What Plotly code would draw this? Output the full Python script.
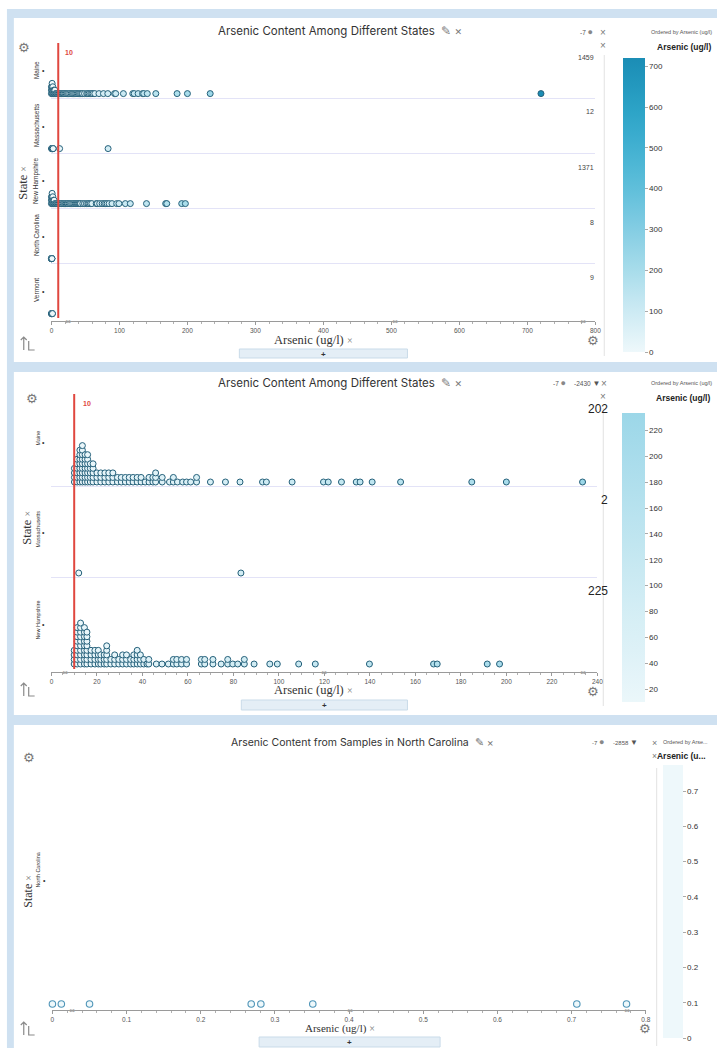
import plotly.graph_objects as go

W, H = 723, 1048

# ---------------- data ----------------
states_all = ["Maine", "Massachusetts", "New Hampshire", "North Carolina", "Vermont"]
counts_all = [1459, 12, 1371, 8, 9]
states_hi = ["Maine", "Massachusetts", "New Hampshire"]
counts_hi = [202, 2, 225]
states_nc = ["North Carolina"]

# Arsenic above 10 ug/l : value of each dot column and number of stacked dots
maine_hi_values = [10.1, 11.3, 12.5, 13.6, 14.8, 15.9, 17.1, 18.3, 20.0, 21.7, 23.5, 25.2, 27.0,
                   29.0, 30.7, 32.5, 34.2, 35.9, 37.7, 39.4, 41.2, 42.9, 44.6, 45.8, 48.7, 51.9,
                   53.6, 55.4, 57.7, 59.4, 61.2, 63.8, 69.9, 76.5, 82.9, 92.8, 94.5, 105.8, 119.6,
                   121.7, 127.5, 134.0, 135.7, 141.0, 153.5, 184.8, 200.0, 233.5, 720.0]
maine_hi_stack = [4, 6, 8, 9, 7, 7, 5, 5, 3, 3, 3, 3, 3,
                  2, 2, 2, 2, 2, 2, 2, 1, 2, 2, 3, 2, 1,
                  2, 1, 1, 1, 1, 2, 1, 1, 1, 1, 1, 1, 1,
                  1, 1, 1, 1, 1, 1, 1, 1, 1, 1]
nh_hi_values = [10.0, 11.3, 12.8, 14.5, 15.6, 17.4, 19.1, 20.6, 21.7, 23.2, 24.3, 26.1, 27.8,
                29.6, 31.3, 33.0, 34.8, 36.2, 37.7, 39.1, 40.6, 42.0, 42.8, 46.1, 48.6, 51.4,
                53.6, 55.1, 57.2, 59.4, 65.9, 67.4, 71.0, 74.6, 77.5, 79.7, 81.9, 84.8, 89.1,
                96.0, 99.3, 108.7, 116.0, 139.8, 168.0, 169.6, 191.6, 197.0]
nh_hi_stack = [4, 9, 10, 9, 8, 4, 4, 4, 3, 3, 5, 2, 3,
               2, 3, 3, 2, 3, 4, 3, 2, 1, 2, 1, 1, 1,
               2, 2, 2, 2, 2, 2, 2, 1, 2, 1, 1, 2, 1,
               1, 1, 1, 1, 1, 1, 1, 1, 1]
mass_hi_values = [12.0, 83.3]
mass_hi_stack = [1, 1]

# Arsenic at or below 10 ug/l (first panel)
maine_lo_values = [0, 1, 2, 3, 4, 5, 6, 7, 8, 9]
maine_lo_stack = [3, 4, 3, 2, 2, 2, 1, 1, 1, 1]
nh_lo_values = [0, 1, 2, 3, 4, 5, 6, 7, 8, 9]
nh_lo_stack = [3, 4, 3, 2, 2, 1, 1, 1, 1, 1]
mass_lo_values = [0.2, 0.5, 0.8, 1.0, 1.2, 1.5, 1.8, 2.0, 2.2, 2.5]
vermont_values = [0.1, 0.2, 0.3, 0.5, 0.6, 0.8, 1.0, 1.2, 1.5]
nc_values = [0.0, 0.012, 0.05, 0.268, 0.281, 0.351, 0.707, 0.774]

threshold = 10
cbar1_ticks = [0, 100, 200, 300, 400, 500, 600, 700]
cbar2_ticks = [20, 40, 60, 80, 100, 120, 140, 160, 180, 200, 220]
cbar3_ticks = [0, 0.1, 0.2, 0.3, 0.4, 0.5, 0.6, 0.7]

# ---------------- helpers ----------------
def px(x):
    return x / W


def py(y):
    return 1 - y / H


MASTER = [(0, (238, 248, 251)), (100, (205, 235, 243)), (200, (168, 220, 235)),
          (300, (132, 205, 227)), (400, (95, 191, 218)), (500, (66, 177, 210)),
          (600, (42, 162, 198)), (720, (27, 141, 181))]


def master_color(v):
    for (a, ca), (b, cb) in zip(MASTER[:-1], MASTER[1:]):
        if v <= b:
            t = max(0.0, (v - a) / (b - a))
            return tuple(round(ca[i] + (cb[i] - ca[i]) * t) for i in range(3))
    return MASTER[-1][1]


def scale_for(cmin, cmax, n=12):
    out = []
    for i in range(n):
        f = i / (n - 1)
        c = master_color(cmin + (cmax - cmin) * f)
        out.append([f, "rgb(%d,%d,%d)" % c])
    return out


def stack_points(values, stacks, row, base, step, xmax=None):
    xs, ys = [], []
    for v, n in zip(values, stacks):
        if xmax is not None and v > xmax:
            continue
        for k in range(n):
            xs.append(v)
            ys.append(row + base + k * step)
    return xs, ys


annotations = []
shapes = []


def txt(x, y, text, size=8, color="#333", family="Liberation Sans", xanchor="center",
        yanchor="middle", angle=0):
    annotations.append(dict(x=px(x), y=py(y), xref="paper", yref="paper", text=text,
                            showarrow=False, xanchor=xanchor, yanchor=yanchor,
                            textangle=angle, borderpad=0,
                            font=dict(size=size, color=color, family=family)))


def rect(x0, y0, x1, y1, fill, line=None, layer="below"):
    shapes.append(dict(type="rect", xref="paper", yref="paper", x0=px(x0), x1=px(x1),
                       y0=py(y1), y1=py(y0), fillcolor=fill, layer=layer,
                       line=dict(width=1 if line else 0, color=line or fill)))


def vline(x, y0, y1, color, width=1):
    shapes.append(dict(type="line", xref="paper", yref="paper", x0=px(x), x1=px(x),
                       y0=py(y0), y1=py(y1), line=dict(color=color, width=width), layer="below"))


def corner_icon(x, y):
    p = "M %f %f L %f %f M %f %f L %f %f L %f %f M %f %f L %f %f L %f %f" % (
        px(x), py(y + 7), px(x), py(y - 6),
        px(x - 3), py(y - 3), px(x), py(y - 6), px(x + 3), py(y - 3),
        px(x + 5), py(y - 2), px(x + 5), py(y + 7), px(x + 11), py(y + 7))
    shapes.append(dict(type="path", xref="paper", yref="paper", path=p,
                       line=dict(color="#8a8a8a", width=1.2)))


# ---------------- frame ----------------
rect(5, 9, 723, 1048, "#cfe1f1")
rect(12, 18, 723, 362, "white")
rect(12, 372, 723, 715, "white")
rect(12, 725, 723, 1048, "white")

# ---------------- traces ----------------
fig = go.Figure()

# panel 1 : all states, rows (bottom -> top) Vermont .. Maine
B1, S1 = 0.08, 0.062
rows1 = {"Maine": 4, "Massachusetts": 3, "New Hampshire": 2, "North Carolina": 1, "Vermont": 0}
x1, y1 = [], []
for vals, st, row, stepped in [
    (maine_lo_values, maine_lo_stack, rows1["Maine"], True),
    (maine_hi_values, [1] * len(maine_hi_values), rows1["Maine"], False),
    (mass_lo_values, [1] * len(mass_lo_values), rows1["Massachusetts"], False),
    (mass_hi_values, mass_hi_stack, rows1["Massachusetts"], False),
    (nh_lo_values, nh_lo_stack, rows1["New Hampshire"], True),
    (nh_hi_values, [1] * len(nh_hi_values), rows1["New Hampshire"], False),
    (nc_values, [1] * len(nc_values), rows1["North Carolina"], False),
    (vermont_values, [1] * len(vermont_values), rows1["Vermont"], False),
]:
    xs, ys = stack_points(vals, st, row, B1, S1 if stepped else 0)
    x1 += xs
    y1 += ys

# panel 2 : above 10 ug/l, rows Maine(2) Massachusetts(1) New Hampshire(0)
B2, S2 = 0.044, 0.05
x2, y2 = [], []
for vals, st, row in [(maine_hi_values, maine_hi_stack, 2),
                      (mass_hi_values, mass_hi_stack, 1),
                      (nh_hi_values, nh_hi_stack, 0)]:
    xs, ys = stack_points(vals, st, row, B2, S2, xmax=240)
    x2 += xs
    y2 += ys

# panel 3 : North Carolina
x3 = list(nc_values)
y3 = [0.025] * len(nc_values)

mk = dict(size=6, line=dict(color="#24607a", width=1))
fig.add_trace(go.Scatter(x=x1, y=y1, mode="markers", xaxis="x", yaxis="y", hoverinfo="skip",
                         cliponaxis=False,
                         marker=dict(color=x1, coloraxis="coloraxis", **mk)))
fig.add_trace(go.Scatter(x=x2, y=y2, mode="markers", xaxis="x2", yaxis="y2", hoverinfo="skip",
                         cliponaxis=False,
                         marker=dict(color=x2, coloraxis="coloraxis2", **mk)))
fig.add_trace(go.Scatter(x=x3, y=y3, mode="markers", xaxis="x3", yaxis="y3", hoverinfo="skip",
                         cliponaxis=False,
                         marker=dict(color=x3, coloraxis="coloraxis3", size=6.5,
                                     line=dict(color="#4f95b8", width=1.1))))


def cbar(x, ytop, ybot, ticks, thick):
    return dict(x=px(x), xanchor="left", y=py(ybot), yanchor="bottom",
                len=ybot - ytop, lenmode="pixels", thickness=thick, thicknessmode="pixels",
                xpad=0, ypad=0, outlinewidth=0, ticks="outside", ticklen=3, tickcolor="#aaa",
                tickvals=ticks, tickfont=dict(size=8, color="#333", family="Liberation Sans"))


cmin1, cmax1 = min(x1), max(x1)
cmin2, cmax2 = min(x2), max(x2)
cmin3, cmax3 = min(x3), max(x3)

axis_font = dict(size=6.5, color="#555", family="Liberation Sans")


def xax(dom, rng, dtick, minor):
    return dict(domain=dom, range=rng, dtick=dtick, tick0=0, showgrid=False, zeroline=False,
                showline=True, linecolor="#9a9a9a", linewidth=1, ticks="outside", ticklen=3,
                tickcolor="#9a9a9a", tickfont=axis_font, fixedrange=True,
                minor=dict(dtick=minor, ticks="outside", ticklen=2, tickcolor="#b0b0b0"))


def yax(dom, rng, grids, anchor):
    return dict(domain=dom, range=rng, tickvals=grids, showticklabels=False, ticks="",
                showgrid=True, gridcolor="#e3e3f7", gridwidth=1, zeroline=False,
                showline=False, fixedrange=True, anchor=anchor)


layout = dict(
    width=W, height=H, autosize=False, margin=dict(l=0, r=0, t=0, b=0),
    paper_bgcolor="white", plot_bgcolor="rgba(0,0,0,0)", showlegend=False,
    xaxis=xax([px(50), px(600)], [0, 800], 100, 20) | dict(anchor="y"),
    yaxis=yax([py(321), py(40)], [-3 / 55, (318 - 40) / 55], [1, 2, 3, 4], "x"),
    xaxis2=xax([px(50), px(602)], [0, 240], 20, 5) | dict(anchor="y2"),
    yaxis2=yax([py(672), py(393)], [-4 / 91, (668 - 393) / 91], [1, 2], "x2"),
    xaxis3=xax([px(51), px(651)], [0, 0.8], 0.1, 0.02) | dict(anchor="y3"),
    yaxis3=yax([py(1010), py(770)], [0, 1], [], "x3"),
    coloraxis=dict(cmin=cmin1, cmax=cmax1, colorscale=scale_for(cmin1, cmax1),
                   colorbar=cbar(628, 352 - cmax1 * 0.409, 352, cbar1_ticks, 22)),
    coloraxis2=dict(cmin=cmin2, cmax=cmax2, colorscale=scale_for(cmin2, cmax2),
                    colorbar=cbar(627, 702 - (cmax2 - cmin2) * 1.295, 702, cbar2_ticks, 23)),
    coloraxis3=dict(cmin=cmin3, cmax=cmax3, colorscale=scale_for(cmin3, cmax3),
                    colorbar=cbar(668, 1038 - (cmax3 - cmin3) * 353, 1038, cbar3_ticks, 20)),
)

# threshold lines
shapes.append(dict(type="line", xref="x", yref="paper", x0=threshold, x1=threshold,
                   y0=py(318), y1=py(43), line=dict(color="#e0473f", width=2)))
shapes.append(dict(type="line", xref="x2", yref="paper", x0=threshold, x1=threshold,
                   y0=py(669), y1=py(394), line=dict(color="#e0473f", width=2)))

# separators between plot and legend
vline(609, 55, 356, "#e2e2e2")
vline(608, 408, 706, "#e2e2e2")
vline(662, 768, 1046, "#e2e2e2")

TITLE_FONT = "Inter"
GREY = "#7a7a7a"
icons = "  <span style='color:#777'>✎ ×</span>"

# ---------- panel 1 texts ----------
txt(217, 31, "Arsenic Content Among Different States" + icons, 11.5, "#333", TITLE_FONT, "left")
txt(591, 32, "-7 <span style='color:#888;font-size:9px'>●</span>", 6.5, "#555")
txt(608, 33, "×", 10, GREY)
txt(608, 46, "×", 10, GREY)
txt(655, 32, "Ordered by Arsenic (ug/l)", 5.5, "#555", "Liberation Sans", "left")
txt(661, 47, "<b>Arsenic (ug/l)</b>", 8.5, "#222", "Liberation Sans", "left")
txt(22, 48, "⚙", 13, "#777", "DejaVu Sans")
txt(63, 52, "<b>10</b>", 7, "#e0473f", "Liberation Sans", "left")
for i, (s, c) in enumerate(zip(states_all, counts_all)):
    top = 43 + 55 * i
    txt(35, top + 27.5, s, 6.5, "#333", "Liberation Sans", angle=-90)
    txt(42, top + 28, "•", 7, "#333")
    txt(600, top + 14, str(c), 7, "#444", "Liberation Sans", "right")
txt(21, 183, "State <span style='color:#777;font-size:10px'>×</span>", 12.5, "#333",
    "Liberation Serif", angle=-90)
txt(315, 340, "Arsenic (ug/l) <span style='color:#777;font-size:10px'>×</span>", 12.5, "#333",
    "Liberation Serif")
for hx in [67, 398, 588]:
    txt(hx, 321, "⇔", 8, "#a0a0a0", "DejaVu Sans")
rect(240, 349, 410, 358, "#e4eef6", "#c9dbe9", layer="above")
txt(325, 354, "<b>+</b>", 8, "#333")
txt(598, 340, "⚙", 13, "#777", "DejaVu Sans")
corner_icon(22, 343)

# ---------- panel 2 texts ----------
txt(217, 383, "Arsenic Content Among Different States" + icons, 11.5, "#333", TITLE_FONT, "left")
txt(564, 383, "-7 <span style='color:#888;font-size:9px'>●</span>", 6.5, "#555")
txt(592, 383, "-2430 <span style='color:#555;font-size:8px'>▼</span>", 6.5, "#555")
txt(609, 384, "×", 10, GREY)
txt(608, 397, "×", 10, GREY)
txt(655, 383, "Ordered by Arsenic (ug/l)", 5.5, "#555", "Liberation Sans", "left")
txt(660, 398, "<b>Arsenic (ug/l)</b>", 8.5, "#222", "Liberation Sans", "left")
txt(30, 398, "⚙", 13, "#777", "DejaVu Sans")
txt(81, 404, "<b>10</b>", 7, "#e0473f", "Liberation Sans", "left")
for i, (s, c) in enumerate(zip(states_hi, counts_hi)):
    top = 395 + 91 * i
    txt(36, top + 43, s, 5.5, "#333", "Liberation Sans", angle=-90)
    txt(42, top + 47, "•", 7, "#333")
    txt(614, top + 14, str(c), 12, "#222", "Liberation Sans", "right")
txt(25, 528, "State <span style='color:#777;font-size:10px'>×</span>", 12.5, "#333",
    "Liberation Serif", angle=-90)
txt(315, 690, "Arsenic (ug/l) <span style='color:#777;font-size:10px'>×</span>", 12.5, "#333",
    "Liberation Serif")
for hx in [64, 326, 588]:
    txt(hx, 672, "⇔", 8, "#a0a0a0", "DejaVu Sans")
rect(242, 700, 410, 710, "#e4eef6", "#c9dbe9", layer="above")
txt(326, 705, "<b>+</b>", 8, "#333")
txt(598, 691, "⚙", 13, "#777", "DejaVu Sans")
corner_icon(22, 689)

# ---------- panel 3 texts ----------
txt(231, 742, "Arsenic Content from Samples in North Carolina" + icons, 10.5, "#333", TITLE_FONT,
    "left")
txt(603, 742, "-7 <span style='color:#888;font-size:9px'>●</span>", 6, "#555")
txt(630, 742, "-2858 <span style='color:#555;font-size:8px'>▼</span>", 6, "#555")
txt(660, 743, "×", 9, GREY)
txt(667, 742, "Ordered by Arse...", 5.5, "#555", "Liberation Sans", "left")
txt(656, 756, "<span style='color:#777;font-weight:normal'>×</span><b>Arsenic (u...</b>", 8.5,
    "#222", "Liberation Sans", "left")
txt(27, 757, "⚙", 13, "#777", "DejaVu Sans")
txt(36, 870, states_nc[0], 5.5, "#333", "Liberation Sans", angle=-90)
txt(43, 880, "•", 7, "#333")
txt(26, 891, "State <span style='color:#777;font-size:10px'>×</span>", 12, "#333",
    "Liberation Serif", angle=-90)
txt(342, 1028, "Arsenic (ug/l) <span style='color:#777;font-size:10px'>×</span>", 11, "#333",
    "Liberation Serif")
for hx in [71, 352, 632]:
    txt(hx, 1010, "⇔", 8, "#a0a0a0", "DejaVu Sans")
rect(260, 1037, 443, 1047, "#e4eef6", "#c9dbe9", layer="above")
txt(351, 1042, "<b>+</b>", 8, "#333")
txt(650, 1028, "⚙", 13, "#777", "DejaVu Sans")
corner_icon(22, 1028)

layout["annotations"] = annotations
layout["shapes"] = shapes
fig.update_layout(**layout)

fig.write_html("out.html", config={"displayModeBar": False},
               post_script="document.body.style.margin='0';document.body.style.overflow='hidden';")
